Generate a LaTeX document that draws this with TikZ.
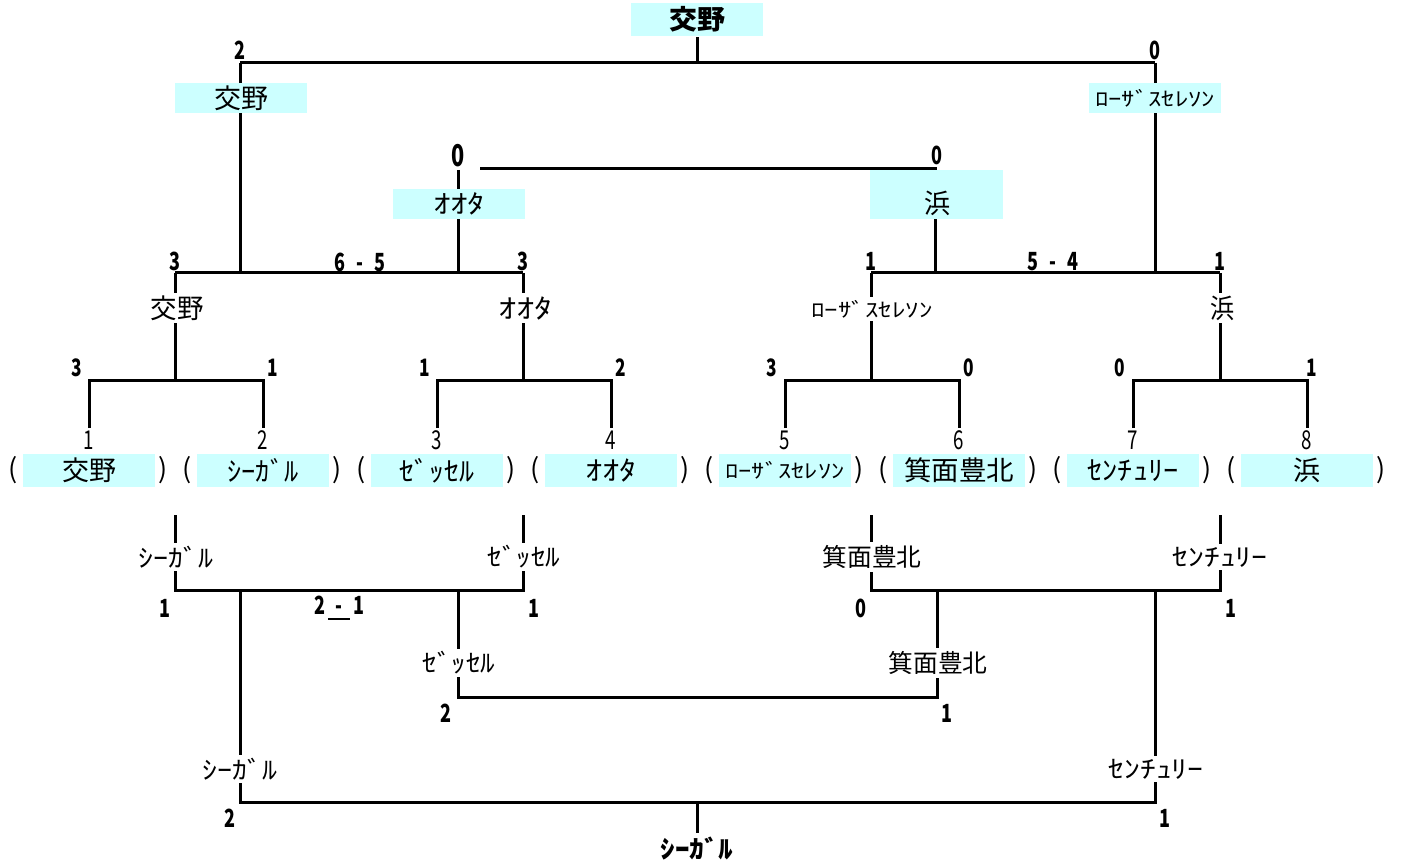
\documentclass[tikz,border=0pt]{standalone}
\usepackage{fontspec}
\setmainfont{Noto Sans CJK JP}
\usepackage{graphicx}
\definecolor{boxc}{HTML}{CCFFFF}
\newcommand\tx[3]{{\fontsize{#1pt}{#1pt}\selectfont\resizebox{#2pt}{\height}{#3}}}
\newcommand\nm[2]{{\fontsize{#1pt}{#1pt}\selectfont\bfseries\scalebox{0.72}[1]{#2}}}
\newcommand\sd[1]{{\fontsize{26pt}{26pt}\selectfont\scalebox{0.72}[1]{#1}}}
\newcommand\pr[1]{{\fontsize{27pt}{27pt}\selectfont #1}}
\begin{document}
\begin{tikzpicture}[x=1pt,y=-1pt,line width=3pt,
  box/.style={fill=boxc,inner sep=0pt,minimum width=132pt,minimum height=33pt},
  gap/.style={fill=white,inner xsep=1pt,inner ysep=3pt},
  lbl/.style={inner sep=0pt}]
\useasboundingbox (0,0) rectangle (1406,861);
% ---------- coordinates ----------
\coordinate (fL) at (240,63); \coordinate (fR) at (1155,63); \coordinate (fM) at (697,63);
\coordinate (qL1) at (175,273); \coordinate (qL2) at (523,273);
\coordinate (qR1) at (871,273); \coordinate (qR2) at (1220,273);
\coordinate (qLa) at (240,273); \coordinate (qLb) at (458,273);
\coordinate (qRa) at (935,273); \coordinate (qRb) at (1155,273);
\coordinate (sLt) at (458,170); \coordinate (sA) at (480,169); \coordinate (sB) at (935,169);
% ---------- upper bracket lines ----------
\node[box] (top) at (697,19.5) {\tx{27}{56}{\bfseries 交野}};
\draw (top.south) -- (fM);
\draw (fL) -- (fR);
\draw (fL) -- (qLa);
\draw (fR) -- (qRb);
\draw (sLt) -- (qLb);
\draw (sA) -- (sB) -- (qRa);
\draw (qL1) -- (qL2);
\draw (qR1) -- (qR2);
\foreach \c in {175,523,871,1220} { \draw (\c,273) -- (\c,380); }
\foreach \a/\b in {89/263,437/611,785/959,1133/1307} {
  \draw (\a,428) -- (\a,380) -- (\b,380) -- (\b,428);
}
% ---------- lower bracket lines ----------
\coordinate (b1) at (175,590); \coordinate (b2) at (523,590);
\coordinate (b3) at (871,590); \coordinate (b4) at (1220,590);
\draw (175,515) -- (b1) -- (b2) -- (523,515);
\draw (871,515) -- (b3) -- (b4) -- (1220,515);
\coordinate (c1) at (458,697); \coordinate (c2) at (937,697);
\draw (458,590) -- (c1) -- (c2) -- (937,590);
\coordinate (d1) at (240,802); \coordinate (d2) at (1155,802); \coordinate (dm) at (697,802);
\draw (240,590) -- (d1) -- (d2) -- (1155,590);
\draw (dm) -- (697,835);
% ---------- boxes ----------
\node[box,minimum height=30pt] (w1) at (241,98) {\tx{27}{54}{交野}};
\node[box,minimum height=30pt] (w2) at (1155,98) {\tx{20}{120}{ﾛｰｻﾞｽｾﾚｿﾝ}};
\node[box,minimum height=30pt] (s1) at (459,204) {\tx{26}{52}{ｵｵﾀ}};
\node[box,minimum width=133pt,minimum height=49pt] (s2) at (936.5,194.5) {};
\node[lbl] (s2t) at (937,203) {\tx{27}{26}{浜}};
% ---------- upper scores ----------
\node[lbl] (n1) at (240,50) {\nm{25}{2}};
\node[lbl] (n2) at (1155,50) {\nm{25}{0}};
\node[lbl] (n3) at (458,156) {\nm{30}{0}};
\node[lbl] (n4) at (937,155) {\nm{25}{0}};
\node[lbl] (n5) at (175,261) {\nm{25}{3}};
\node[lbl] (n6) at (523,261) {\nm{25}{3}};
\node[lbl] (n7) at (360,262) {\nm{25}{6}\hspace{11pt}\nm{25}{-}\hspace{11pt}\nm{25}{5}};
\node[lbl] (n8) at (871,261) {\nm{25}{1}};
\node[lbl] (n9) at (1220,261) {\nm{25}{1}};
\node[lbl] (n10) at (1053,262) {\nm{25}{5}\hspace{11pt}\nm{25}{-}\hspace{11pt}\nm{25}{4}};
% ---------- QF labels ----------
\node[gap] (q1) at (177,308) {\tx{27}{53}{交野}};
\node[gap] (q2) at (525,308) {\tx{27}{54}{ｵｵﾀ}};
\node[gap] (q3) at (872,309) {\tx{20}{121}{ﾛｰｻﾞｽｾﾚｿﾝ}};
\node[gap] (q4) at (1222,308) {\tx{27}{24}{浜}};
% ---------- R1 scores ----------
\node[lbl] (r1) at (77,368) {\nm{24}{3}};
\node[lbl] (r2) at (273,368) {\nm{24}{1}};
\node[lbl] (r3) at (425,368) {\nm{24}{1}};
\node[lbl] (r4) at (621,368) {\nm{24}{2}};
\node[lbl] (r5) at (772,368) {\nm{24}{3}};
\node[lbl] (r6) at (969,368) {\nm{24}{0}};
\node[lbl] (r7) at (1120,368) {\nm{24}{0}};
\node[lbl] (r8) at (1312,368) {\nm{24}{1}};
% ---------- seeds ----------
\foreach \i/\c in {1/89,2/263,3/437,4/611,5/785,6/959,7/1133,8/1307} {
  \node[lbl] (seed\i) at (\c,440) {\sd{\i}};
  \node[lbl] (po\i) at (\c-76,470) {\pr{(}};
  \node[lbl] (pc\i) at (\c+74,470) {\pr{)}};
}
% ---------- team boxes ----------
\node[box] (t1) at (89,470.5) {\tx{27}{54}{交野}};
\node[box] (t2) at (263,470.5) {\tx{27}{71}{ｼｰｶﾞﾙ}};
\node[box] (t3) at (437,470.5) {\tx{27}{75}{ｾﾞｯｾﾙ}};
\node[box] (t4) at (611,470.5) {\tx{27}{51}{ｵｵﾀ}};
\node[box] (t5) at (785,470.5) {\tx{20}{119}{ﾛｰｻﾞｽｾﾚｿﾝ}};
\node[box] (t6) at (959,470.5) {\tx{27}{110}{箕面豊北}};
\node[box] (t7) at (1133,470.5) {\tx{27}{91}{ｾﾝﾁｭﾘｰ}};
\node[box] (t8) at (1307,470.5) {\tx{27}{27}{浜}};
% ---------- lower labels ----------
\node[gap] (l1) at (176,557) {\tx{25}{75}{ｼｰｶﾞﾙ}};
\node[gap] (l2) at (524,557) {\tx{25}{73}{ｾﾞｯｾﾙ}};
\node[gap] (l3) at (872,557) {\tx{25}{99}{箕面豊北}};
\node[gap] (l4) at (1220,557) {\tx{25}{95}{ｾﾝﾁｭﾘｰ}};
\node[gap] (l5) at (459,663) {\tx{25}{73}{ｾﾞｯｾﾙ}};
\node[gap] (l6) at (938,663) {\tx{25}{99}{箕面豊北}};
\node[gap] (l7) at (240,769) {\tx{25}{75}{ｼｰｶﾞﾙ}};
\node[gap] (l8) at (1156,769) {\tx{25}{95}{ｾﾝﾁｭﾘｰ}};
\node[gap] (win) at (697,848) {\tx{25}{73}{\bfseries ｼｰｶﾞﾙ}};
% ---------- lower scores ----------
\node[lbl] (m1) at (165,608) {\nm{25}{1}};
\node[lbl] (m2) at (339,608) {\nm{25}{2}\hspace{3pt}\makebox[22pt]{\nm{25}{-}}\llap{\rule[-6pt]{22pt}{2.5pt}}\hspace{3pt}\nm{25}{1}};
\node[lbl] (m3) at (534,608) {\nm{25}{1}};
\node[lbl] (m4) at (861,608) {\nm{25}{0}};
\node[lbl] (m5) at (1231,608) {\nm{25}{1}};
\node[lbl] (m6) at (446,713) {\nm{25}{2}};
\node[lbl] (m7) at (947,713) {\nm{25}{1}};
\node[lbl] (m8) at (230,818) {\nm{25}{2}};
\node[lbl] (m9) at (1165,818) {\nm{25}{1}};
\end{tikzpicture}
\end{document}
